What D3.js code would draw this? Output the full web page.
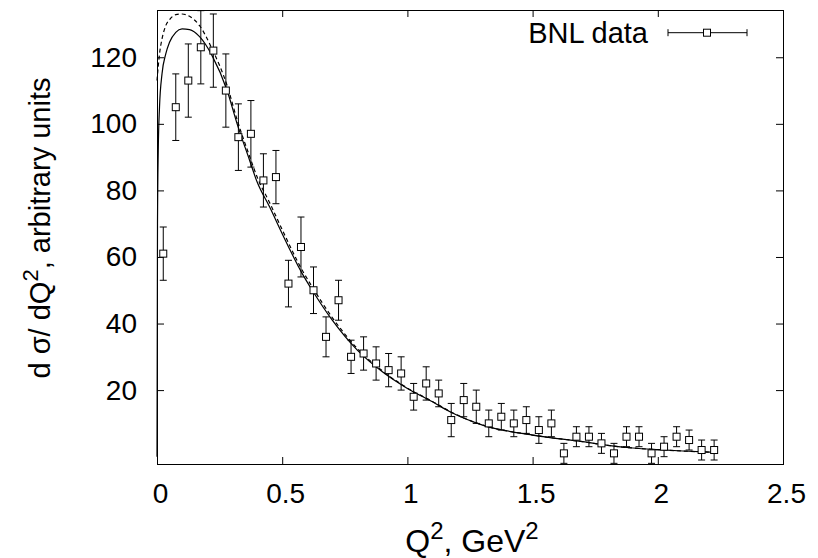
<!DOCTYPE html>
<html>
<head>
<meta charset="utf-8">
<script src="https://cdn.jsdelivr.net/npm/d3@7"></script>
<style>
  body { margin: 0; background: #fff; }
  text { font-family: 'Liberation Sans', Arial, sans-serif; fill: #000; }
</style>
</head>
<body>
<div id="chart"></div>
<script>
// data
const q2 = [0.025, 0.075, 0.125, 0.175, 0.225, 0.275, 0.325, 0.375, 0.425, 0.475,
  0.525, 0.575, 0.625, 0.675, 0.725, 0.775, 0.825, 0.875, 0.925, 0.975,
  1.025, 1.075, 1.125, 1.175, 1.225, 1.275, 1.325, 1.375, 1.425, 1.475,
  1.525, 1.575, 1.625, 1.675, 1.725, 1.775, 1.825, 1.875, 1.925, 1.975,
  2.025, 2.075, 2.125, 2.175, 2.225]
const sigma = [61, 105, 113, 123, 122, 110, 96, 97, 83, 84,
  52, 63, 50, 36, 47, 30, 31, 28, 26, 25,
  18, 22, 19, 11, 17, 15, 10, 12, 10, 11,
  8, 10, 1, 6, 6, 4, 1, 6, 6, 1,
  3, 6, 5, 2, 2]
const err = [8, 10, 11, 11, 11, 11, 10, 10, 8, 8,
  7, 9, 7, 6, 6, 5, 5, 5, 5, 5,
  4, 5, 4, 5, 5, 5, 4, 4, 4, 4,
  4, 4, 3, 3, 3, 3, 3, 3, 3, 3,
  3, 3, 3, 3, 3]

// model curves
const solidX = [0, 0.002, 0.005, 0.01, 0.02, 0.035, 0.05, 0.075, 0.1, 0.13, 0.17, 0.22,
  0.28, 0.32, 0.37, 0.4, 0.45, 0.5, 0.58, 0.62, 0.7, 0.8, 0.9, 1.0, 1.1, 1.17,
  1.3, 1.5, 1.7, 1.8, 1.9, 2.0, 2.1, 2.23]
const solidY = [0, 70, 92, 105, 115, 121, 124.5, 127.5, 128.5, 128.3, 126.2, 120.5,
  110, 100, 89, 82.5, 75, 67, 55, 50, 41, 32, 25.5, 20.5, 16.5, 13.5,
  9.5, 6.5, 4.5, 3.4, 2.6, 2.1, 1.7, 1.3]
const dashedX = [0, 0.01, 0.02, 0.035, 0.05, 0.075, 0.1, 0.13, 0.17, 0.22,
  0.28, 0.32, 0.37, 0.4, 0.45, 0.5, 0.58, 0.62, 0.7, 0.8, 0.9, 1.0, 1.1, 1.17,
  1.3, 1.5, 1.7, 1.8, 1.9, 2.0, 2.1, 2.23]
const dashedY = [113, 121, 125.5, 129.5, 131.3, 132.8, 133, 132.3, 129.5, 122.5,
  111.5, 101.2, 90.2, 84, 76.3, 68.2, 56, 51, 41.8, 32.5, 25.8, 20.6, 16.6, 13.6,
  9.5, 6.5, 4.5, 3.4, 2.6, 2.1, 1.7, 1.3]

const xTicks = [0, 0.5, 1, 1.5, 2, 2.5]
const yTicks = [20, 40, 60, 80, 100, 120]

const margin = { top: 10, left: 157, right: 35, bottom: 94 }
const width = 818 - margin.left - margin.right
const height = 558 - margin.top - margin.bottom

const svg = d3
  .select('#chart')
  .append('svg')
  .attr('width', 818)
  .attr('height', 558)
  .append('g')
  .attr('transform', 'translate(' + margin.left + ',' + margin.top + ')')

const x = d3.scaleLinear().domain([0, 2.5]).range([0, width])
const y = d3.scaleLinear().domain([-2.2, 134.2]).range([height, 0])

const tickLen = 7

// axes, ticks pointing in, mirrored on top and right
const xAxis = d3.axisBottom(x).tickValues(xTicks).tickSize(-tickLen).tickPadding(19)
  .tickFormat(d3.format('~g'))
const yAxis = d3.axisLeft(y).tickValues(yTicks).tickSize(-tickLen).tickPadding(20)

svg.append('g')
  .attr('class', 'x-axis')
  .attr('transform', 'translate(0,' + height + ')')
  .call(xAxis)
svg.append('g')
  .attr('class', 'y-axis')
  .call(yAxis)
svg.append('g')
  .call(d3.axisTop(x).tickValues(xTicks).tickSize(-tickLen).tickFormat(''))
svg.append('g')
  .attr('transform', 'translate(' + width + ',0)')
  .call(d3.axisRight(y).tickValues(yTicks).tickSize(-tickLen).tickFormat(''))

svg.selectAll('.domain').remove()
svg.selectAll('.tick line').attr('stroke', '#000').attr('stroke-width', 1)
svg.selectAll('.tick text')
  .attr('font-size', 28)
  .attr('font-family', "'Liberation Sans', Arial, sans-serif")
  .attr('fill', '#000')
svg.select('.x-axis').selectAll('.tick text').attr('dy', '0.71em').attr('dx', 3)

svg.append('rect')
  .attr('x', 0.5)
  .attr('y', 0.5)
  .attr('width', width)
  .attr('height', height)
  .attr('fill', 'none')
  .attr('stroke', '#000')
  .attr('stroke-width', 1)

// curves
const solid = solidX.map((d, i) => [d, solidY[i]])
const dashed = dashedX.map((d, i) => [d, dashedY[i]])
const line = d3.line()
  .x(d => x(d[0]))
  .y(d => y(d[1]))
  .curve(d3.curveMonotoneX)

svg.append('path')
  .datum(solid)
  .attr('d', line)
  .attr('fill', 'none')
  .attr('stroke', '#000')
  .attr('stroke-width', 1.2)

svg.append('path')
  .datum(dashed)
  .attr('d', line)
  .attr('fill', 'none')
  .attr('stroke', '#000')
  .attr('stroke-width', 1.2)
  .attr('stroke-dasharray', '4,3')

// data points with error bars
const points = q2.map((d, i) => ({ q2: d, value: sigma[i], err: err[i] }))
const box = 7
const cap = 3.5

const pts = svg.append('g')
  .selectAll('.point')
  .data(points)
  .enter()
  .append('g')
  .attr('class', 'point')

pts.append('line')
  .attr('x1', d => x(d.q2))
  .attr('x2', d => x(d.q2))
  .attr('y1', d => y(d.value - d.err))
  .attr('y2', d => y(Math.min(d.value + d.err, 134.2)))
  .attr('stroke', '#000')
pts.append('line')
  .attr('x1', d => x(d.q2) - cap)
  .attr('x2', d => x(d.q2) + cap)
  .attr('y1', d => y(d.value - d.err))
  .attr('y2', d => y(d.value - d.err))
  .attr('stroke', '#000')
pts.filter(d => d.value + d.err < 134.2)
  .append('line')
  .attr('x1', d => x(d.q2) - cap)
  .attr('x2', d => x(d.q2) + cap)
  .attr('y1', d => y(d.value + d.err))
  .attr('y2', d => y(d.value + d.err))
  .attr('stroke', '#000')
pts.append('rect')
  .attr('x', d => x(d.q2) - box / 2)
  .attr('y', d => y(d.value) - box / 2)
  .attr('width', box)
  .attr('height', box)
  .attr('fill', '#fff')
  .attr('stroke', '#000')

// legend
const legend = svg.append('g')
legend.append('text')
  .attr('x', 491)
  .attr('y', 33)
  .attr('text-anchor', 'end')
  .attr('font-size', 29)
  .text('BNL data')
const ly = 22.7
legend.append('line').attr('x1', 511).attr('x2', 590).attr('y1', ly).attr('y2', ly).attr('stroke', '#000')
legend.append('line').attr('x1', 511).attr('x2', 511).attr('y1', ly - cap).attr('y2', ly + cap).attr('stroke', '#000')
legend.append('line').attr('x1', 590).attr('x2', 590).attr('y1', ly - cap).attr('y2', ly + cap).attr('stroke', '#000')
legend.append('rect')
  .attr('x', 550 - box / 2).attr('y', ly - box / 2)
  .attr('width', box).attr('height', box)
  .attr('fill', '#fff').attr('stroke', '#000')

// axis titles
const xTitle = svg.append('text')
  .attr('x', width / 2 + 2)
  .attr('y', 542)
  .attr('text-anchor', 'middle')
  .attr('font-size', 32)
xTitle.append('tspan').text('Q')
xTitle.append('tspan').attr('font-size', 24).attr('dy', -13).text('2')
xTitle.append('tspan').attr('dy', 13).text(', GeV')
xTitle.append('tspan').attr('font-size', 24).attr('dy', -13).text('2')

const yTitle = svg.append('text')
  .attr('transform', 'translate(' + (50 - margin.left) + ',218) rotate(-90)')
  .attr('text-anchor', 'middle')
  .attr('font-size', 29)
yTitle.append('tspan').text('d \u03c3/ dQ')
yTitle.append('tspan').attr('font-size', 22).attr('dy', -12).text('2')
yTitle.append('tspan').attr('dy', 12).text(', arbitrary units')
</script>
</body>
</html>
